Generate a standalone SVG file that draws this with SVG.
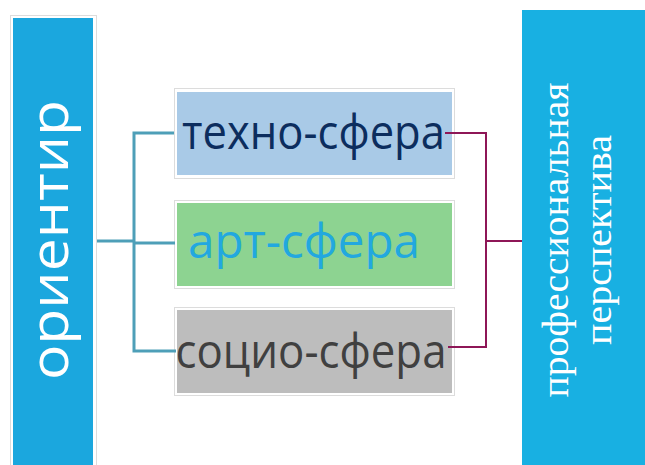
<svg xmlns="http://www.w3.org/2000/svg" width="645" height="465" viewBox="0 0 645 465">
<style>
.frame{fill:#ffffff;stroke:#dcdcdc;stroke-width:1}
.mid{font-family:"Open Sans","Noto Sans","DejaVu Sans",sans-serif;font-size:47px;text-anchor:middle}
.teal{fill:none;stroke:#4e9fb8;stroke-width:3}
.maroon{fill:none;stroke:#8e1757;stroke-width:2}
</style>
<rect width="645" height="465" fill="#ffffff"/>
<g id="orientir">
<rect class="frame" x="10.5" y="15.5" width="86" height="452"/>
<rect x="13" y="18" width="80" height="447" fill="#1ba7de"/>
<text transform="translate(68,240) rotate(-90)" font-family="'Open Sans','Noto Sans','DejaVu Sans',sans-serif" font-size="53" fill="#ffffff" text-anchor="middle" textLength="280" lengthAdjust="spacingAndGlyphs">ориентир</text>
</g>
<g id="perspektiva">
<rect x="522" y="10" width="123" height="455" fill="#18b0e2"/>
<text transform="translate(568,240) rotate(-90)" font-family="'Liberation Serif','Times New Roman',serif" font-size="37" fill="#ffffff" text-anchor="middle" textLength="315" lengthAdjust="spacingAndGlyphs">профессиональная</text>
<text transform="translate(611,240) rotate(-90)" font-family="'Liberation Serif','Times New Roman',serif" font-size="37" fill="#ffffff" text-anchor="middle" textLength="210" lengthAdjust="spacingAndGlyphs">перспектива</text>
</g>
<g id="techno">
<rect class="frame" x="174.5" y="88.5" width="280" height="90"/>
<rect x="177" y="92" width="275" height="83" fill="#a9cae7"/>
<text class="mid" x="313.5" y="149" fill="#0c2d5e" textLength="263" lengthAdjust="spacingAndGlyphs">техно-сфера</text>
</g>
<g id="art">
<rect class="frame" x="174.5" y="200.5" width="280" height="88"/>
<rect x="177" y="203" width="275" height="83" fill="#8dd391"/>
<text class="mid" x="304" y="258" fill="#22a8df" textLength="232" lengthAdjust="spacingAndGlyphs">арт-сфера</text>
</g>
<g id="socio">
<rect class="frame" x="174.5" y="307.5" width="280" height="88"/>
<rect x="177" y="310" width="275" height="83" fill="#bdbdbd"/>
<text class="mid" x="311" y="368" fill="#404040" textLength="271" lengthAdjust="spacingAndGlyphs">социо-сфера</text>
</g>
<g id="connectors">
<path class="teal" d="M97 241H134M174 133H134V351H176M134 243H175"/>
<path class="maroon" d="M445 133H486V347H448"/>
<path class="maroon" d="M486 241H522" stroke-width="3"/>
</g>
</svg>
